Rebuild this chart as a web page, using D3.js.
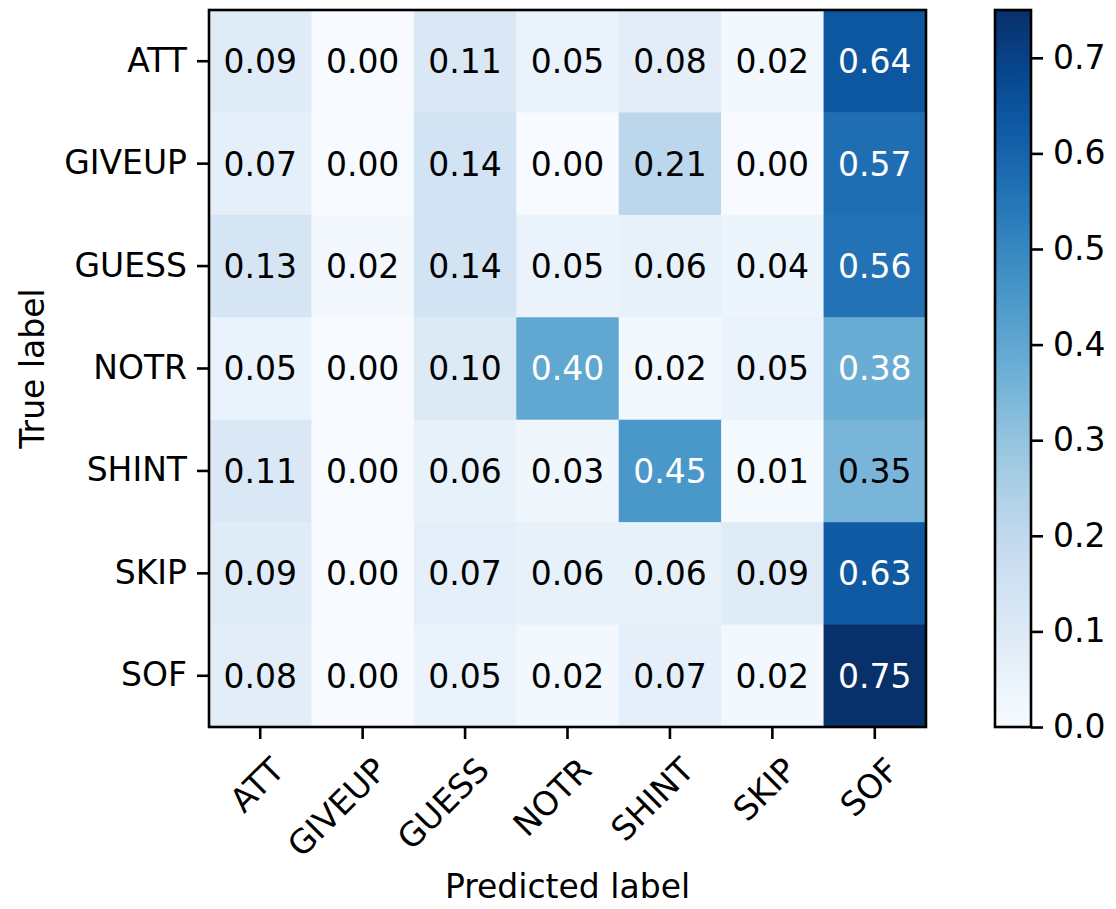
<!DOCTYPE html>
<html>
<head>
<meta charset="utf-8">
<script src="https://cdn.jsdelivr.net/npm/d3@7"></script>
<style>
  body { margin: 0; background: #fff; }
  text { font-family: "DejaVu Sans", sans-serif; }
</style>
</head>
<body>
<svg width="1116" height="909"></svg>
<script>
  // confusion matrix values (rows = true, cols = predicted)
  const labels = ["ATT", "GIVEUP", "GUESS", "NOTR", "SHINT", "SKIP", "SOF"];
  const rowATT = [0.09, 0.0, 0.11, 0.05, 0.08, 0.02, 0.64];
  const rowGIVEUP = [0.07, 0.0, 0.14, 0.0, 0.21, 0.0, 0.57];
  const rowGUESS = [0.13, 0.02, 0.14, 0.05, 0.06, 0.04, 0.56];
  const rowNOTR = [0.05, 0.0, 0.1, 0.4, 0.02, 0.05, 0.38];
  const rowSHINT = [0.11, 0.0, 0.06, 0.03, 0.45, 0.01, 0.35];
  const rowSKIP = [0.09, 0.0, 0.07, 0.06, 0.06, 0.09, 0.63];
  const rowSOF = [0.08, 0.0, 0.05, 0.02, 0.07, 0.02, 0.75];
  const matrix = [rowATT, rowGIVEUP, rowGUESS, rowNOTR, rowSHINT, rowSKIP, rowSOF];
  const colorbarTicks = [0.0, 0.1, 0.2, 0.3, 0.4, 0.5, 0.6, 0.7];

  const vmax = d3.max(matrix.flat());
  const svg = d3.select("svg");
  const fs = 33;

  // matplotlib-style Blues: linear between the 9 brewer colours
  const blues = d3.scaleLinear()
    .domain(d3.range(9).map((i) => (i / 8) * vmax))
    .range(d3.schemeBlues[9])
    .clamp(true);

  const mLeft = 209, mTop = 10, size = 717;
  const x = d3.scaleBand().domain(labels).range([mLeft, mLeft + size]);
  const y = d3.scaleBand().domain(labels).range([mTop, mTop + size]);

  const cells = [];
  matrix.forEach((row, i) =>
    row.forEach((v, j) => cells.push({ r: labels[i], c: labels[j], v }))
  );

  svg.append("g")
    .selectAll("rect")
    .data(cells)
    .enter()
    .append("rect")
    .attr("x", (d) => x(d.c))
    .attr("y", (d) => y(d.r))
    .attr("width", x.bandwidth() + 0.5)
    .attr("height", y.bandwidth() + 0.5)
    .attr("fill", (d) => blues(d.v));

  svg.append("g")
    .selectAll("text")
    .data(cells)
    .enter()
    .append("text")
    .attr("x", (d) => x(d.c) + x.bandwidth() / 2)
    .attr("y", (d) => y(d.r) + y.bandwidth() / 2)
    .attr("text-anchor", "middle")
    .attr("dy", "0.36em")
    .attr("font-size", fs)
    .attr("fill", (d) => (d.v > vmax / 2 ? "#fff" : "#000"))
    .text((d) => d.v.toFixed(2));

  // axes
  const yAxis = svg.append("g")
    .attr("transform", `translate(${mLeft},0)`)
    .call(d3.axisLeft(y).tickSize(12).tickPadding(10));
  yAxis.select(".domain").remove();
  yAxis.selectAll(".tick line").attr("stroke-width", 2.6);
  yAxis.selectAll(".tick text").attr("font-size", fs).attr("font-family", "DejaVu Sans");

  const xAxis = svg.append("g")
    .attr("transform", `translate(0,${mTop + size})`)
    .call(d3.axisBottom(x).tickSize(12).tickPadding(10));
  xAxis.select(".domain").remove();
  xAxis.selectAll(".tick line").attr("stroke-width", 2.6);
  xAxis.selectAll(".tick text")
    .attr("font-size", fs)
    .attr("font-family", "DejaVu Sans")
    .attr("text-anchor", "end")
    .attr("y", 0)
    .attr("dy", 0)
    .attr("transform", "translate(9,28) rotate(-45) translate(0,24)");

  svg.append("rect")
    .attr("x", mLeft)
    .attr("y", mTop)
    .attr("width", size)
    .attr("height", size)
    .attr("fill", "none")
    .attr("stroke", "#000")
    .attr("stroke-width", 2.6);

  svg.append("text")
    .attr("x", mLeft + size / 2)
    .attr("y", 898)
    .attr("text-anchor", "middle")
    .attr("font-size", fs)
    .text("Predicted label");

  svg.append("text")
    .attr("transform", `translate(44,${mTop + size / 2}) rotate(-90)`)
    .attr("text-anchor", "middle")
    .attr("font-size", fs)
    .text("True label");

  // colorbar
  const cbLeft = 995, cbWidth = 36;
  const cbScale = d3.scaleLinear().domain([0, vmax]).range([mTop + size, mTop]);
  const defs = svg.append("defs");
  const grad = defs.append("linearGradient")
    .attr("id", "cbgrad")
    .attr("x1", 0).attr("y1", 1).attr("x2", 0).attr("y2", 0);
  d3.range(0, 1.0001, 0.05).forEach((t) => {
    grad.append("stop")
      .attr("offset", t)
      .attr("stop-color", blues(t * vmax));
  });
  svg.append("rect")
    .attr("x", cbLeft)
    .attr("y", mTop)
    .attr("width", cbWidth)
    .attr("height", size)
    .attr("fill", "url(#cbgrad)")
    .attr("stroke", "#000")
    .attr("stroke-width", 2.6);

  const cbAxis = svg.append("g")
    .attr("transform", `translate(${cbLeft + cbWidth},0)`)
    .call(
      d3.axisRight(cbScale)
        .tickValues(colorbarTicks)
        .tickFormat(d3.format(".1f"))
        .tickSize(12)
        .tickPadding(10)
    );
  cbAxis.select(".domain").remove();
  cbAxis.selectAll(".tick line").attr("stroke-width", 2.6);
  cbAxis.selectAll(".tick text").attr("font-size", fs).attr("font-family", "DejaVu Sans");
</script>
</body>
</html>
